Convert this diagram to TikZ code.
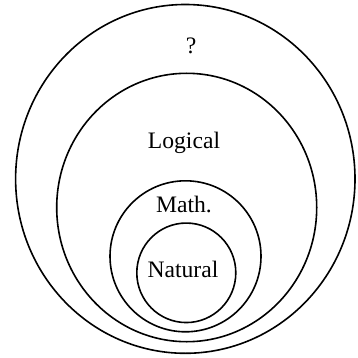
\documentclass[tikz,border=0pt]{standalone}
\usepackage{fontspec}
\setmainfont{Liberation Serif}
\usepackage{tikz}
\usetikzlibrary{shapes.geometric}

\begin{document}
\begin{tikzpicture}[
  x=1pt,y=-1pt,
  ring/.style={draw,ellipse,line width=1.6pt,inner sep=0pt,outer sep=0pt},
  tag/.style={anchor=base,inner sep=0pt,font=\fontsize{23.6}{28}\selectfont},
]
  \useasboundingbox (0,0) rectangle (358,358);

  % nested rings, outermost first
  \node[ring,minimum width=339.4pt,minimum height=348.8pt] (unknown) at (185.3,178.9) {};
  \node[ring,minimum width=260pt,minimum height=268.4pt]   (logical) at (186.7,207.5) {};
  \node[ring,minimum width=151pt,minimum height=151pt]     (math)    at (185.5,256.3) {};
  \node[ring,minimum width=99pt,minimum height=99.5pt]     (natural) at (186.3,272.8) {};

  % labels
  \node[tag] (qlbl)  at (191,53.3)  {?};
  \node[tag] (llbl)  at (184,149)   {Logical};
  \node[tag] (mlbl)  at (184,212.3) {Math.};
  \node[tag] (nlbl)  at (183,277.3) {Natural};
\end{tikzpicture}
\end{document}
